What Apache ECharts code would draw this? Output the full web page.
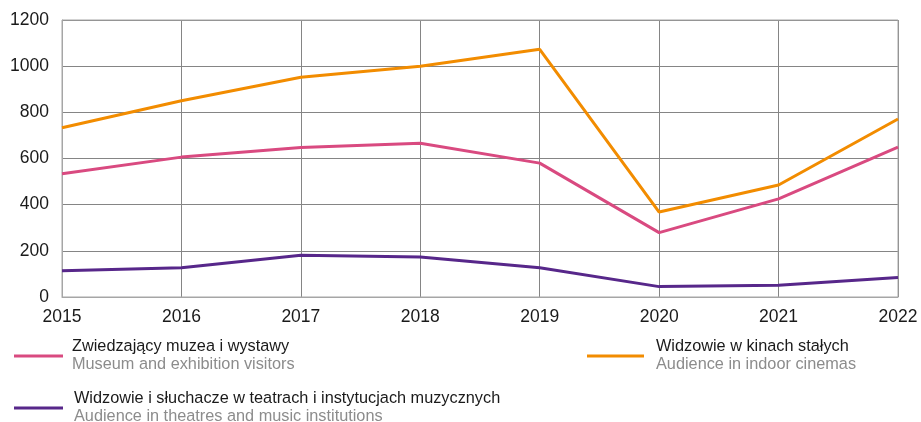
<!DOCTYPE html>
<html>
<head>
<meta charset="utf-8">
<script src="https://cdn.jsdelivr.net/npm/echarts@6/dist/echarts.min.js"></script>
<style>html,body{margin:0;padding:0;background:#fff}#c{width:921px;height:422px}</style>
</head>
<body>
<div id="c"></div>
<script>
var years = ['2015','2016','2017','2018','2019','2020','2021','2022'];
var museum = [534, 606, 648, 666, 580, 279, 425, 649];
var cinema = [733, 850, 952, 1000, 1073, 368, 485, 771];
var theatre = [114, 127, 181, 173, 127, 45, 51, 85];
var yTicks = [0, 200, 400, 600, 800, 1000, 1200];
var names = {
  museum: ['Zwiedzający muzea i wystawy', 'Museum and exhibition visitors'],
  cinema: ['Widzowie w kinach stałych', 'Audience in indoor cinemas'],
  theatre: ['Widzowie i słuchacze w teatrach i instytucjach muzycznych', 'Audience in theatres and music institutions']
};
var colors = { museum: '#d94a80', cinema: '#f28c00', theatre: '#57278a' };
var font = 'Liberation Sans, Arial, sans-serif';

function lg(key, left, top, w, pad) {
  return {
    data: [names[key][0]],
    left: left, top: top,
    padding: 0,
    orient: 'vertical',
    icon: 'rect',
    itemWidth: w, itemHeight: 3,
    selectedMode: false,
    formatter: function (n) { return '{a|' + names[key][0] + '}\n{b|' + names[key][1] + '}'; },
    textStyle: {
      fontFamily: font,
      rich: {
        a: { fontSize: 16.3, color: '#1a1a1a', lineHeight: 18, fontFamily: font, padding: [0, 0, 0, pad] },
        b: { fontSize: 16.3, color: '#8c8c8c', lineHeight: 18, fontFamily: font, padding: [0, 0, 0, pad] }
      }
    }
  };
}

var chart = echarts.init(document.getElementById('c'), null, { renderer: 'canvas' });
chart.setOption({
  animation: false,
  grid: { left: 62, right: 23, top: 20, bottom: 125, containLabel: false },
  xAxis: {
    type: 'category', data: years, boundaryGap: false,
    axisLine: { show: true, lineStyle: { color: '#a6a6a6', width: 1 } },
    axisTick: { show: false },
    axisLabel: { color: '#1a1a1a', fontSize: 17.5, fontFamily: font, margin: 11 },
    splitLine: { show: true, lineStyle: { color: '#858585', width: 1 } }
  },
  yAxis: {
    type: 'value', min: 0, max: 1200, interval: 200,
    axisLine: { show: true, lineStyle: { color: '#a6a6a6', width: 1 } },
    axisTick: { show: false },
    axisLabel: { color: '#1a1a1a', fontSize: 17.5, fontFamily: font, margin: 13,
      formatter: function (v) { return yTicks.indexOf(v) >= 0 ? String(v) : ''; } },
    splitLine: { show: true, lineStyle: { color: '#858585', width: 1 } }
  },
  graphic: [{
    type: 'rect', shape: { x: 62, y: 20, width: 836, height: 277 },
    style: { fill: 'none', stroke: '#a6a6a6', lineWidth: 1 }, silent: true, z: 1
  }],
  legend: [lg('museum', 14, 339, 49, 4), lg('cinema', 587, 339, 57, 7), lg('theatre', 14, 391, 49, 6)],
  series: [
    { name: names.museum[0], type: 'line', data: museum, symbol: 'none',
      lineStyle: { color: colors.museum, width: 3 }, itemStyle: { color: colors.museum } },
    { name: names.cinema[0], type: 'line', data: cinema, symbol: 'none',
      lineStyle: { color: colors.cinema, width: 3 }, itemStyle: { color: colors.cinema } },
    { name: names.theatre[0], type: 'line', data: theatre, symbol: 'none',
      lineStyle: { color: colors.theatre, width: 3 }, itemStyle: { color: colors.theatre } }
  ]
});
</script>
</body>
</html>
